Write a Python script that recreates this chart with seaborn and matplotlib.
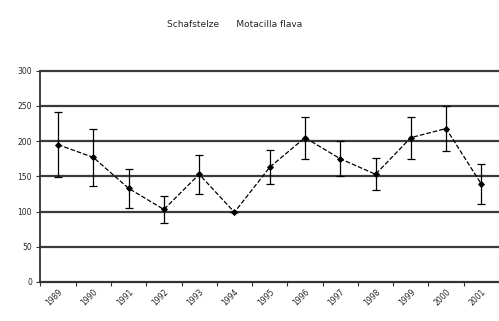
import matplotlib
matplotlib.use("Agg")
import matplotlib.pyplot as plt
import seaborn as sns
import numpy as np
import pandas as pd

years = ["1989", "1990", "1991", "1992", "1993", "1994", "1995",
         "1996", "1997", "1998", "1999", "2000", "2001"]
values = [195, 177, 133, 103, 153, 99, 163, 205, 175, 153, 205, 218, 139]
errors = [46, 40, 28, 19, 28, 0, 24, 30, 25, 23, 30, 32, 28]
title_text = "Schafstelze      Motacilla flava"

sns.set_theme(style="white")
plt.rcParams['font.family'] = ['DejaVu Sans']

fig = plt.figure(figsize=(4.99, 3.21), dpi=100)
ax = fig.add_axes([0.081, 0.1215, 0.919, 0.658])

df = pd.DataFrame({"year": years, "value": values})
sns.pointplot(data=df, x="year", y="value", color="black", markers="D",
              linestyles="--", errorbar=None, ax=ax, markersize=3,
              linewidth=0.9)
pos = np.arange(len(years))
ax.errorbar(pos, values, yerr=errors, fmt="none", ecolor="black",
            elinewidth=0.9, capsize=3, capthick=0.9)

ax.set_ylim(0, 300)
ax.set_xlim(-0.5, len(years) - 0.5)
ax.set_yticks(np.arange(0, 301, 50))
ax.yaxis.grid(True, color="#3a3a3a", linewidth=1.6)
for gl in ax.get_ygridlines():
    gl.set_clip_on(False)
ax.set_axisbelow(True)
ax.set_xlabel("")
ax.set_ylabel("")
for s in ["top", "right"]:
    ax.spines[s].set_visible(False)
for s in ["left", "bottom"]:
    ax.spines[s].set_color("#333333")
    ax.spines[s].set_linewidth(1.3)

ax.set_xticks(pos)
ax.set_xticklabels(years, rotation=45, ha="right", rotation_mode="anchor",
                   fontsize=5.5)
ax.set_xticks(np.arange(-0.5, len(years), 1), minor=True)
ax.tick_params(axis="x", which="major", length=0, pad=4)
ax.tick_params(axis="x", which="minor", length=3, width=0.8, color="#333333",
               direction="out", bottom=True)
ax.tick_params(axis="y", length=3, width=0.8, color="#333333", labelsize=5.5,
               left=True, direction="out", pad=3)

fig.text(0.47, 0.925, title_text, ha="center", va="center", fontsize=6.5)

fig.savefig("out.png", dpi=100)
